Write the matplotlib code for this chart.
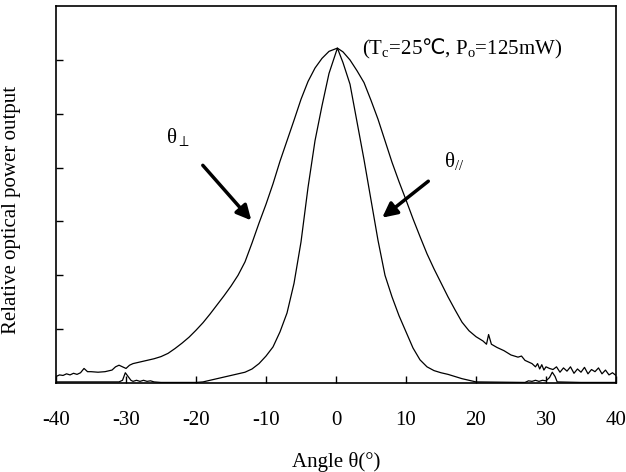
import matplotlib
matplotlib.use("Agg")
import matplotlib.pyplot as plt

plt.rcParams['font.family'] = ['Liberation Serif', 'DejaVu Serif']
plt.rcParams['mathtext.fontset'] = 'custom'
plt.rcParams['mathtext.rm'] = 'Liberation Serif'
plt.rcParams['mathtext.it'] = 'Liberation Serif:italic'
plt.rcParams['mathtext.sf'] = 'DejaVu Sans'
plt.rcParams['axes.unicode_minus'] = False

### dane

# theta perpendicular (szeroka krzywa)
kat_perp = [-40, -39.5, -39, -38.5, -38, -37.5, -37, -36.5, -36, -35.5, -35, -34, -33, -32,
            -31.5, -31, -30.5, -30, -29.5, -29, -28, -27, -26, -25, -24, -23, -22, -21, -20,
            -19, -18, -17, -16, -15, -14, -13, -12, -11, -10, -9, -8, -7, -6, -5, -4, -3,
            -2, -1, 0.2, 1, 2, 3, 4, 5, 6, 7, 8, 9, 10, 11, 12, 13, 14, 15, 16, 17, 18, 19,
            20, 21, 21.5, 21.8, 22.2, 23, 24, 25, 26, 26.5, 27, 28, 28.5, 28.8, 29.1, 29.4,
            29.7, 30, 30.5, 31, 31.5, 32, 32.5, 33, 33.5, 34, 34.5, 35, 35.5, 36, 36.5, 37,
            37.5, 38, 38.5, 39, 39.5, 40]
moc_perp = [0.12, 0.15, 0.14, 0.17, 0.15, 0.18, 0.16, 0.19, 0.27, 0.21, 0.21, 0.2, 0.21, 0.24,
            0.3, 0.33, 0.3, 0.27, 0.33, 0.36, 0.39, 0.42, 0.45, 0.49, 0.55, 0.64, 0.74, 0.85, 0.98,
            1.12, 1.28, 1.45, 1.62, 1.8, 2.0, 2.25, 2.6, 2.97, 3.32, 3.7, 4.12, 4.5, 4.88,
            5.27, 5.6, 5.85, 6.03, 6.16, 6.22, 6.15, 6.0, 5.8, 5.58, 5.25, 4.9, 4.5, 4.1, 3.74,
            3.4, 3.05, 2.72, 2.4, 2.12, 1.86, 1.6, 1.36, 1.13, 0.97, 0.86, 0.78, 0.72, 0.9,
            0.72, 0.66, 0.6, 0.52, 0.48, 0.5, 0.42, 0.36, 0.3, 0.36, 0.26, 0.34, 0.24, 0.3,
            0.27, 0.25, 0.3, 0.2, 0.28, 0.22, 0.3, 0.18, 0.26, 0.2, 0.29, 0.17, 0.25, 0.21,
            0.28, 0.17, 0.24, 0.15, 0.19, 0.14]

# theta parallel (waska krzywa)
kat_par = [-40, -35, -31, -30.5, -30.1, -29.7, -29.3, -29, -28.5, -28, -27.5, -27, -26.5, -26,
           -25, -20, -19, -18, -17, -16, -15, -14, -13, -12, -11, -10, -9, -8, -7, -6, -5,
           -4, -3, -2, -1, 0.2, 1, 2, 3, 4, 5, 6, 7, 8, 9, 10, 11, 12, 13, 14, 15, 16, 17,
           18, 19, 20, 27, 27.5, 28, 28.5, 29, 29.5, 30, 30.5, 30.9, 31.3, 31.6, 35, 40]
moc_par = [0.02, 0.02, 0.02, 0.05, 0.19, 0.12, 0.05, 0.03, 0.05, 0.03, 0.05, 0.03, 0.04, 0.02,
           0.01, 0.01, 0.02, 0.05, 0.08, 0.11, 0.14, 0.17, 0.2, 0.26, 0.36, 0.5, 0.67, 0.95,
           1.3, 1.85, 2.62, 3.63, 4.5, 5.15, 5.75, 6.22, 5.95, 5.55, 4.85, 4.15, 3.4, 2.65, 2.0,
           1.6, 1.25, 0.95, 0.65, 0.43, 0.3, 0.23, 0.19, 0.16, 0.12, 0.08, 0.05, 0.02, 0.01,
           0.04, 0.03, 0.05, 0.03, 0.05, 0.04, 0.1, 0.2, 0.12, 0.02, 0.01, 0.01]

xticks = [-40, -30, -20, -10, 0, 10, 20, 30, 40]
yticks = [1, 2, 3, 4, 5, 6]

fig = plt.figure(figsize=(6.26, 4.72), dpi=100)
ax = fig.add_axes([0.0895, 0.1886, 0.8945, 0.7984])

ax.plot(kat_perp, moc_perp, color='black', lw=0.9)
ax.plot(kat_par, moc_par, color='black', lw=0.9)

ax.set_xlim(-40, 40)
ax.set_ylim(0, 7)
ax.set_xticks(xticks)
ax.set_yticks(yticks)
ax.set_yticklabels([])
ax.tick_params(direction='in', length=5, width=1, labelsize=15, pad=20)
ax.tick_params(axis='x', top=False)
for s in ax.spines.values():
    s.set_linewidth(1.2)

ax.set_xlabel('Angle θ(°)', fontsize=15, labelpad=16)
ax.set_ylabel('Relative optical power output', fontsize=15)
ax.yaxis.set_label_coords(-0.062, 0.46)

# opisy i strzalki
ax.text(3.7, 6.2, '(T$_\\mathrm{c}$=25$\\mathsf{℃}$, P$_\\mathrm{o}$=125mW)', fontsize=15, va='center')
ax.annotate('θ$_\\perp$', xy=(-12.1, 3.02), xytext=(-22.6, 4.57), fontsize=15,
            ha='center', va='center',
            arrowprops=dict(arrowstyle='-|>', lw=2.5, color='black', mutation_scale=22,
                            shrinkA=14, shrinkB=0))
ax.annotate('θ$_{//}$', xy=(6.6, 3.07), xytext=(16.9, 4.13), fontsize=15,
            ha='center', va='center',
            arrowprops=dict(arrowstyle='-|>', lw=2.5, color='black', mutation_scale=22,
                            shrinkA=12, shrinkB=0))

fig.savefig('out.png', dpi=100)
